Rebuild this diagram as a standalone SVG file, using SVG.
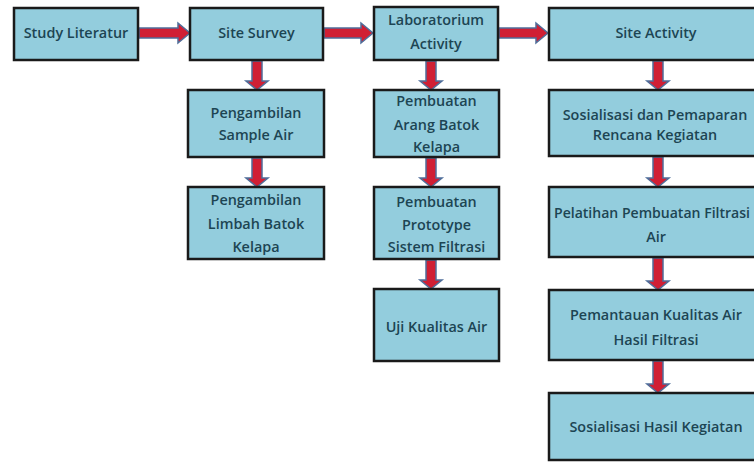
<svg xmlns="http://www.w3.org/2000/svg" width="754" height="462" viewBox="0 0 754 462">
<style>
.box{fill:#93cddd;stroke:#1a1a1a;stroke-width:2.5}
.t{font-family:"Open Sans","Liberation Sans",sans-serif;font-size:14.4px;fill:#1d4553;text-anchor:middle;font-weight:600}
.arr{fill:#d01f34;stroke:#4f6e9a;stroke-width:1.5;stroke-linejoin:miter}
</style>
<rect width="754" height="462" fill="#ffffff"/>
<g id="connectors">
<polygon class="arr" points="139,28 178,28 178,23 190,33 178,43 178,38 139,38"/>
<polygon class="arr" points="324,28 361,28 361,23 373,33 361,43 361,38 324,38"/>
<polygon class="arr" points="499,28 536,28 536,23 548,33 536,43 536,38 499,38"/>
<polygon class="arr" points="252,61 262,61 262,81 268,81 257,90 246,81 252,81"/>
<polygon class="arr" points="252,158 262,158 262,178 268,178 257,187 246,178 252,178"/>
<polygon class="arr" points="426,61 436,61 436,81 442,81 431,90 420,81 426,81"/>
<polygon class="arr" points="426,158 436,158 436,178 442,178 431,187 420,178 426,178"/>
<polygon class="arr" points="426,260 436,260 436,280 442,280 431,289 420,280 426,280"/>
<polygon class="arr" points="653,61 663,61 663,81 669,81 658,90 647,81 653,81"/>
<polygon class="arr" points="653,157 663,157 663,178 669,178 658,187 647,178 653,178"/>
<polygon class="arr" points="653,258 663,258 663,281 669,281 658,290 647,281 653,281"/>
<polygon class="arr" points="653,361 663,361 663,384 669,384 658,393 647,384 653,384"/>
</g>
<g id="study-literatur"><rect class="box" x="14" y="8" width="124" height="52"/><text class="t" x="76" y="38">Study Literatur</text></g>
<g id="site-survey"><rect class="box" x="190" y="8" width="133" height="52"/><text class="t" x="256.5" y="38">Site Survey</text></g>
<g id="laboratorium-activity"><rect class="box" x="374" y="7" width="124" height="53"/><text class="t" x="436" y="25">Laboratorium</text><text class="t" x="436" y="49">Activity</text></g>
<g id="site-activity"><rect class="box" x="549" y="8" width="220" height="52"/><text class="t" x="656" y="38">Site Activity</text></g>
<g id="pengambilan-sample-air"><rect class="box" x="188" y="90" width="136" height="67"/><text class="t" x="256" y="118">Pengambilan</text><text class="t" x="256" y="140">Sample Air</text></g>
<g id="pengambilan-limbah"><rect class="box" x="188" y="187" width="136" height="72"/><text class="t" x="256" y="205">Pengambilan</text><text class="t" x="256" y="229">Limbah Batok</text><text class="t" x="256" y="252">Kelapa</text></g>
<g id="pembuatan-arang"><rect class="box" x="374" y="90" width="125" height="67"/><text class="t" x="436.5" y="106">Pembuatan</text><text class="t" x="436.5" y="130">Arang Batok</text><text class="t" x="436.5" y="152">Kelapa</text></g>
<g id="pembuatan-prototype"><rect class="box" x="374" y="187" width="125" height="72"/><text class="t" x="436.5" y="207">Pembuatan</text><text class="t" x="436.5" y="230">Prototype</text><text class="t" x="436.5" y="252">Sistem Filtrasi</text></g>
<g id="uji-kualitas-air"><rect class="box" x="374" y="289" width="125" height="72"/><text class="t" x="436.5" y="332">Uji Kualitas Air</text></g>
<g id="sosialisasi-pemaparan"><rect class="box" x="549" y="90" width="220" height="66"/><text class="t" x="655" y="120">Sosialisasi dan Pemaparan</text><text class="t" x="655" y="140">Rencana Kegiatan</text></g>
<g id="pelatihan"><rect class="box" x="549" y="187" width="220" height="70"/><text class="t" x="652" y="218" textLength="196" lengthAdjust="spacingAndGlyphs">Pelatihan Pembuatan Filtrasi</text><text class="t" x="656" y="242">Air</text></g>
<g id="pemantauan"><rect class="box" x="549" y="290" width="220" height="70"/><text class="t" x="656" y="320">Pemantauan Kualitas Air</text><text class="t" x="656" y="345">Hasil Filtrasi</text></g>
<g id="sosialisasi-hasil"><rect class="box" x="549" y="393" width="220" height="67"/><text class="t" x="656" y="432">Sosialisasi Hasil Kegiatan</text></g>
</svg>
